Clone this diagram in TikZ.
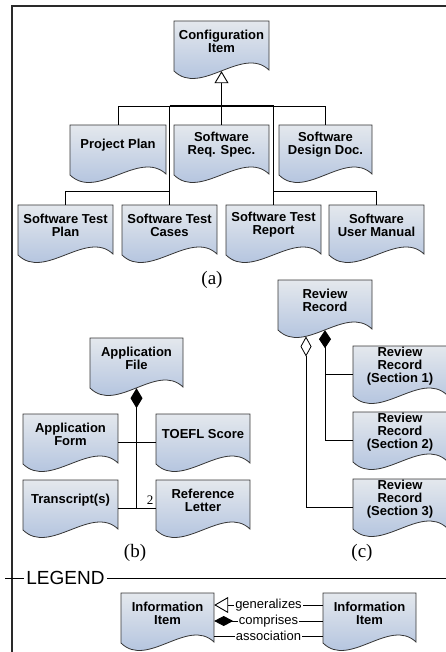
\documentclass[tikz,border=0pt]{standalone}
\usepackage{fontspec}
\setmainfont{Liberation Sans}
\newfontfamily\capserif{Liberation Serif}
\usetikzlibrary{arrows.meta,fit,calc}

\definecolor{docTop}{HTML}{E4E8ED}
\definecolor{docBot}{HTML}{A6BADB}
\definecolor{docEdge}{HTML}{353535}
\definecolor{framePen}{HTML}{2A2A2A}

\tikzset{
  docshape/.style={draw=docEdge, line width=0.8pt, top color=docTop, bottom color=docBot},
  docarea/.style={inner sep=0pt},
  doctext/.style={font=\fontsize{13}{13}\selectfont\bfseries, align=center, inner sep=0pt},
  link/.style={line width=0.9pt, black},
  stem/.style={line width=1.5pt, black},
  framepen/.style={line width=1.4pt, framePen},
  caption/.style={font=\capserif\fontsize{19}{19}\selectfont, inner sep=0pt},
  mult/.style={font=\capserif\fontsize{13}{13}\selectfont, inner sep=0pt},
  legendtitle/.style={font=\fontsize{19}{19}\selectfont, fill=white, inner xsep=2pt, inner ysep=0pt},
  lbl/.style={font=\fontsize{13}{13}\selectfont, fill=white, inner xsep=1pt, inner ysep=0pt},
  gen/.style={-{Triangle[open, length=12pt, width=14pt, line width=0.9pt]}},
}

% document-shaped box: name, left, top, right, text
\newcommand\docbox[5]{%
  \path[docshape] (#2,#3) -- (#4,#3) -- (#4,#3+49)
    .. controls ({#4-0.28*(#4-#2)},#3+24) and ({#2+0.28*(#4-#2)},#3+76) .. (#2,#3+50) -- cycle;
  \node[docarea, fit={(#2,#3) (#4,#3+56)}] (#1) {};
  \node[doctext] (#1-t) at ({(#2+#4)/2},#3+20) {#5};
}

\begin{document}
\begin{tikzpicture}[x=1pt, y=-1pt]
\useasboundingbox (0,0) rectangle (446,652);

% outer frame
\coordinate (fBL) at (12,660);
\coordinate (fTL) at (12,6);
\coordinate (fTR) at (452,6);
\draw[framepen] (fBL) -- (fTL) -- (fTR);

% ---------- (a) configuration items ----------
\docbox{ci}{174}{21}{269}{Configuration\\Item}
\docbox{pp}{70}{125}{166}{Project Plan}
\docbox{srs}{174}{125}{269}{Software\\Req. Spec.}
\docbox{sdd}{279}{125}{372}{Software\\Design Doc.}
\docbox{stp}{18}{205}{113}{Software Test\\Plan}
\docbox{stc}{122}{205}{217}{Software Test\\Cases}
\docbox{str}{226}{205}{321}{Software Test\\Report}
\docbox{sum}{329}{205}{424}{Software\\User Manual}

\coordinate (busA) at (222,106);
\coordinate (busB) at (222,191);

\draw[stem, gen] (ci.south |- busA) -- ([yshift=6pt]ci.south);
\draw[link] (pp.north |- busA) -- (stc.north |- busA);
\draw[line width=1.3pt] (stc.north |- busA) -- (str.north |- busA);
\draw[link] (str.north |- busA) -- (sdd.north |- busA);
\draw[link] (pp.north) -- (pp.north |- busA);
\draw[link] (srs.north) -- (srs.north |- busA);
\draw[link] (sdd.north) -- (sdd.north |- busA);
\draw[link] (stc.north) -- (stc.north |- busA);
\draw[link] (str.north) -- (str.north |- busA);
\draw[link] (stp.north) -- (stp.north |- busB) -- (stc.north |- busB);
\draw[link] (sum.north) -- (sum.north |- busB) -- (str.north |- busB);

\node[caption] (capA) at (212,280) {(a)};

% ---------- (b) application file ----------
\docbox{af}{90}{338}{183}{Application\\File}
\docbox{form}{23}{414}{118}{Application\\Form}
\docbox{toefl}{156}{414}{250}{TOEFL Score}
\docbox{tr}{23}{480}{118}{Transcript(s)}
\docbox{ref}{156}{480}{250}{Reference\\Letter}

\draw[stem, {Diamond[length=20pt, width=12pt]}-] ([yshift=6pt]af.south) -- (af.south |- tr.east);
\draw[link] (form.east) -- (toefl.west);
\draw[link] (tr.east) -- (ref.west);
\node[mult] (mul) at (150,500) {2};

\node[caption] (capB) at (135,553) {(b)};

% ---------- (c) review record ----------
\docbox{rr}{278}{280}{372}{Review\\Record}
\docbox{sa}{353}{346}{447}{Review\\Record\\(Section 1)}
\docbox{sb}{353}{412}{447}{Review\\Record\\(Section 2)}
\docbox{sc}{353}{479}{447}{Review\\Record\\(Section 3)}

\draw[link, {Diamond[length=18pt, width=12pt]}-] ([yshift=6pt]rr.south) |- (sb.west);
\draw[link] (sa.west) -- (sa.west -| rr.south);
\draw[link, {Diamond[open, length=20pt, width=11pt, line width=0.8pt]}-]
  ([xshift=-19pt, yshift=-0.3pt]rr.south) |- (sc.west);

\node[caption] (capC) at (362,553) {(c)};

% ---------- legend ----------
\node[legendtitle] (leg) at (65.5,578) {LEGEND};
\coordinate (legL) at (5,578);
\coordinate (legR) at (452,578);
\draw[link] (legL) -- (leg.west);
\draw[link] (leg.east) -- (legR);

\docbox{li}{121}{593}{214}{Information\\Item}
\docbox{ri}{323}{593}{416}{Information\\Item}

\draw[link, -{Triangle[open, length=14pt, width=16pt, line width=0.9pt]}]
  ([yshift=16pt]ri.west) -- node[lbl] (lg) {generalizes} ([yshift=16pt]li.east);
\draw[link, -{Diamond[length=19pt, width=10pt]}]
  (ri.west) -- node[lbl] (lc) {comprises} (li.east);
\draw[link]
  ([yshift=-15pt]ri.west) -- node[lbl] (la) {association} ([yshift=-15pt]li.east);
\end{tikzpicture}
\end{document}
